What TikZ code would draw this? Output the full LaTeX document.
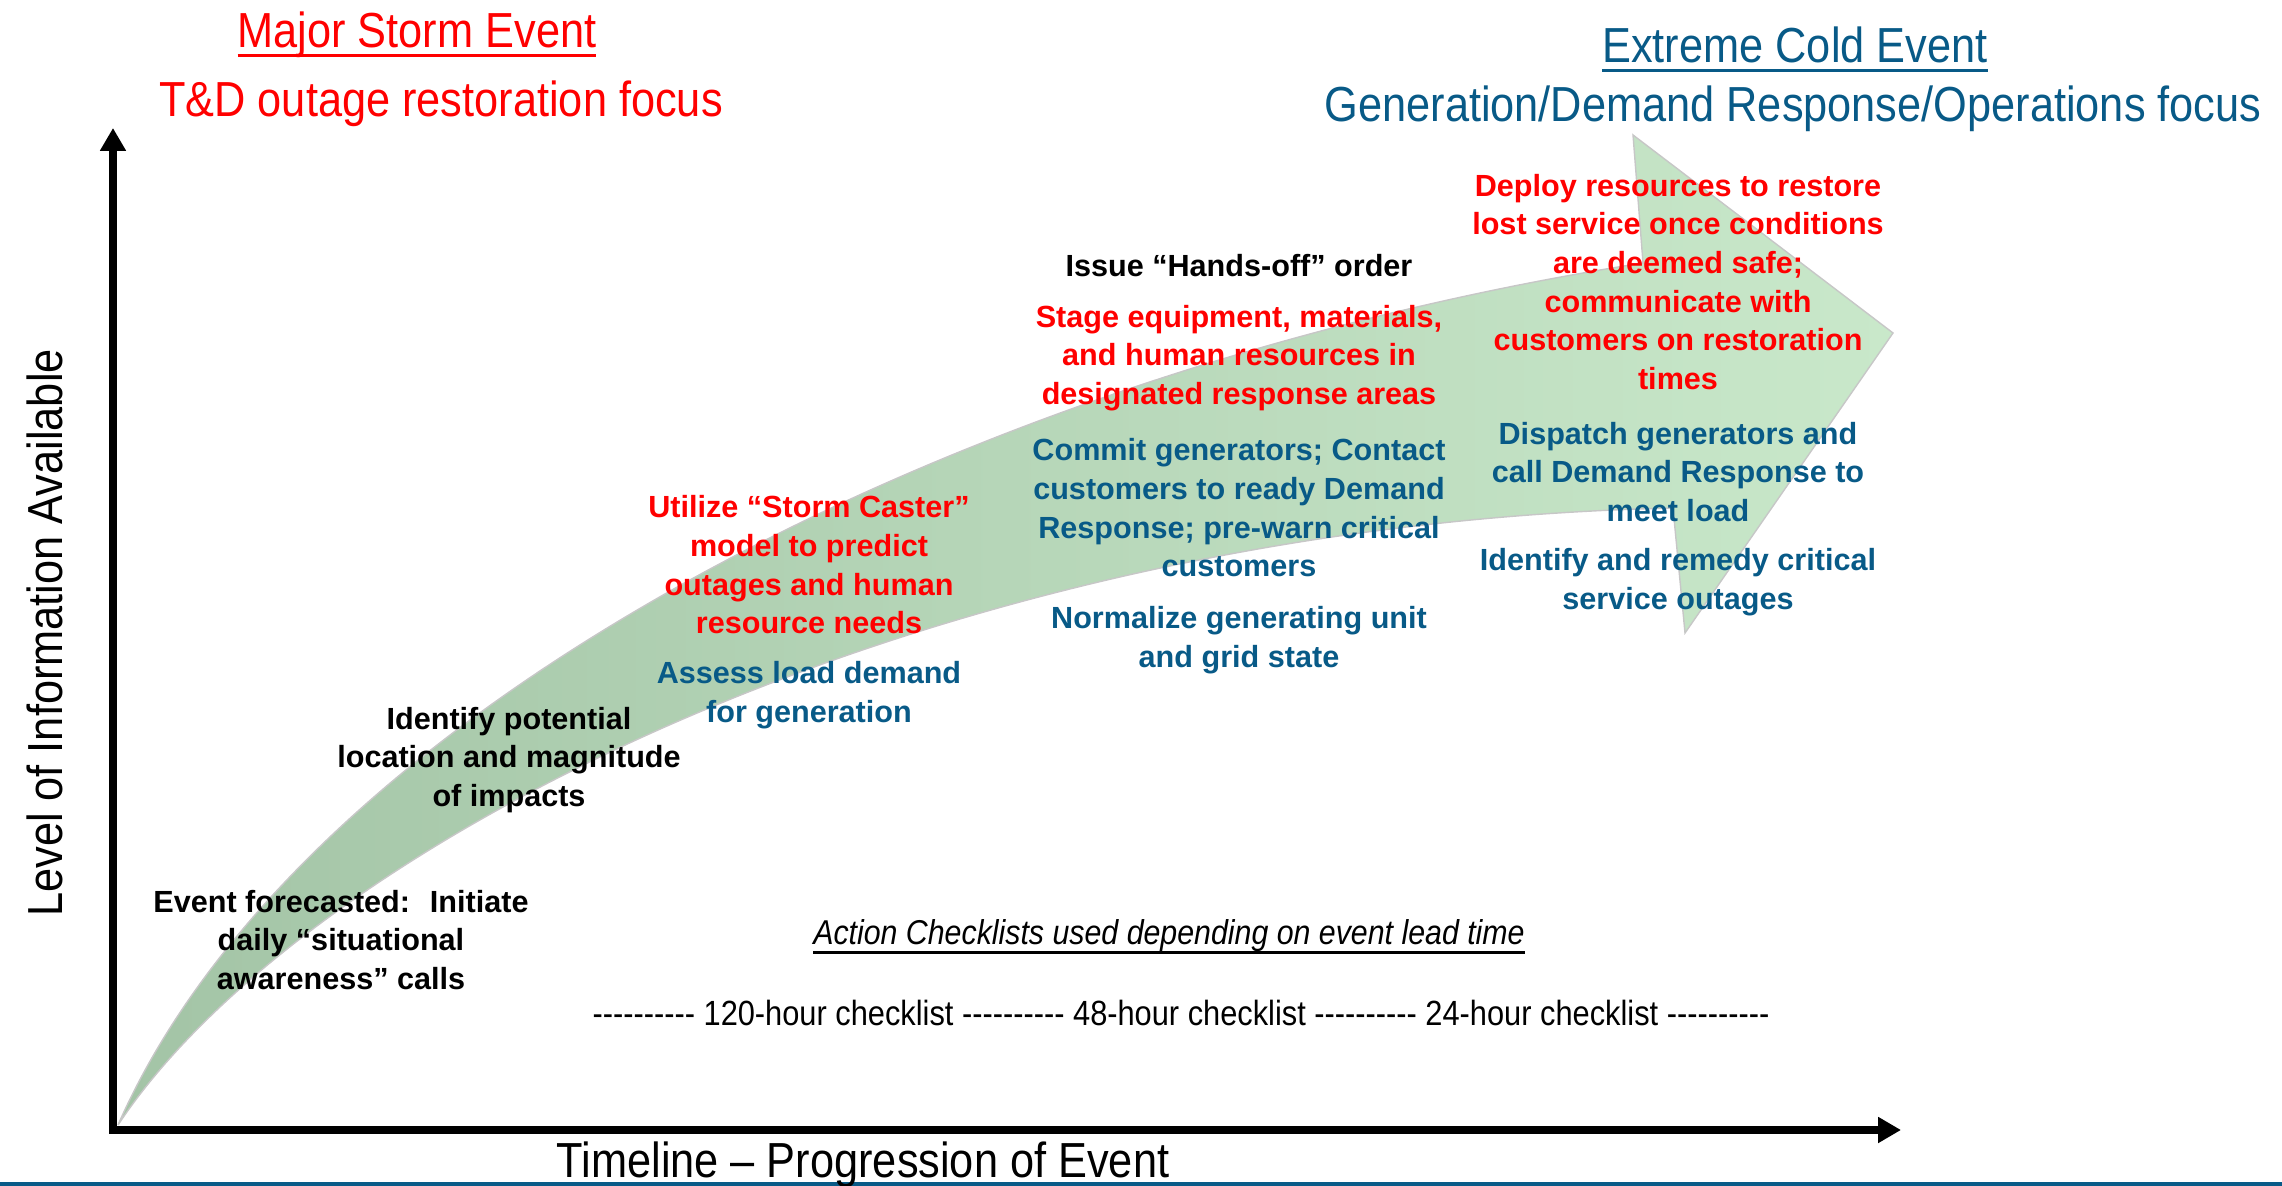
\documentclass[tikz,border=0pt]{standalone}
\usepackage{fontspec}
\setmainfont{Liberation Sans}
\newfontfamily\narrowfont{Liberation Sans}[FakeStretch=0.88]
\usetikzlibrary{arrows.meta}
\definecolor{stormred}{HTML}{FF0000}
\definecolor{coldblue}{HTML}{085A87}
\definecolor{shaftdark}{HTML}{A3C4A6}
\definecolor{shaftlight}{HTML}{C9E8CA}

% underline with a heavier rule than \underline gives
\newcommand{\uln}[1]{\setbox0\hbox{#1}\rlap{\copy0}\rule[-2.6pt]{\wd0}{1pt}}
% a run of hyphens that the TeX ligature mapping leaves alone
\newcommand{\hy}{-\kern0pt}
\newcommand{\dashrun}{\hy\hy\hy\hy\hy\hy\hy\hy\hy\hy}

\begin{document}
\begin{tikzpicture}[
  x=0.01cm, y=-0.01cm,
  every node/.style={align=center, inner sep=0pt},
  axis/.style={line width=2.3pt,
               {Triangle[length=6.5pt,width=7pt]}-{Triangle[length=6.5pt,width=7pt]}},
  head/.style={font=\narrowfont\fontsize{14}{17}\selectfont},
  note/.style={font=\narrowfont\fontsize{9.8}{12}\selectfont},
  act/.style={font=\bfseries\fontsize{8.7}{11}\selectfont},
]
\useasboundingbox (0,0) rectangle (2282,1186);

% ---------- band along the bottom ----------
\fill[coldblue] (0,1182) rectangle (2282,1186);

% ---------- growing-information arrow ----------
\path[left color=shaftdark, right color=shaftlight, draw=black!22, line width=0.4pt]
  (118,1125) .. controls (300,710) and (960,370) .. (1643,263)
  -- (1633,135) -- (1893,333) -- (1685,633) -- (1673,508)
  .. controls (920,525) and (300,850) .. (118,1125) -- cycle;

% ---------- axes ----------
\coordinate (origin) at (113,1130);
\coordinate (ytop) at (113,128);
\coordinate (xend) at (1901,1130);
\draw[axis] (ytop) -- (origin) -- (xend);

\node[head, rotate=90, anchor=base] (ylabel) at (62,633) {Level of Information Available};
\node[head, anchor=base] (xlabel) at (863,1177) {Timeline – Progression of Event};

% ---------- headings ----------
\node[head, text=stormred, anchor=base] (stormtitle) at (417,48) {\uln{Major Storm Event}};
\node[head, text=stormred, anchor=base] (stormfocus) at (441,117) {T\&D outage restoration focus};
\node[head, text=coldblue, anchor=base] (coldtitle) at (1795,63) {\uln{Extreme Cold Event}};
\node[head, text=coldblue, anchor=base] (coldfocus) at (1793,122) {Generation/Demand Response/Operations focus};

% ---------- actions, left to right ----------
\node[act] (forecast) at (341,940) {Event forecasted:~ Initiate\\daily “situational\\awareness” calls};
\node[act] (impacts) at (509,760) {Identify potential\\location and magnitude\\of impacts};

\node[act, text=stormred] (stormcaster) at (809,565)
  {Utilize “Storm Caster”\\model to predict\\outages and human\\resource needs};
\node[act, text=coldblue] (loaddemand) at (809,695) {Assess load demand\\for generation};

\node[act] (handsoff) at (1239,266) {Issue “Hands-off” order};
\node[act, text=stormred] (stage) at (1239,358)
  {Stage equipment, materials,\\and human resources in\\designated response areas};
\node[act, text=coldblue] (commit) at (1239,508)
  {Commit generators; Contact\\customers to ready Demand\\Response; pre-warn critical\\customers};
\node[act, text=coldblue] (normalize) at (1239,640) {Normalize generating unit\\and grid state};

\node[act, text=stormred] (deploy) at (1678,282)
  {Deploy resources to restore\\lost service once conditions\\are deemed safe;\\communicate with\\customers on restoration\\times};
\node[act, text=coldblue] (dispatch) at (1678,472)
  {Dispatch generators and\\call Demand Response to\\meet load};
\node[act, text=coldblue] (remedy) at (1678,582) {Identify and remedy critical\\service outages};

% ---------- checklists ----------
\node[note, anchor=base] (leadtime) at (1169,945)
  {\itshape\uln{Action Checklists used depending on event lead time}};
\node[note, font=\narrowfont\fontsize{9.95}{12}\selectfont, anchor=base] (checklists) at (1181,1025)
  {\dashrun{} 120-hour checklist \dashrun{} 48-hour checklist \dashrun{} 24-hour checklist \dashrun};

\end{tikzpicture}
\end{document}
